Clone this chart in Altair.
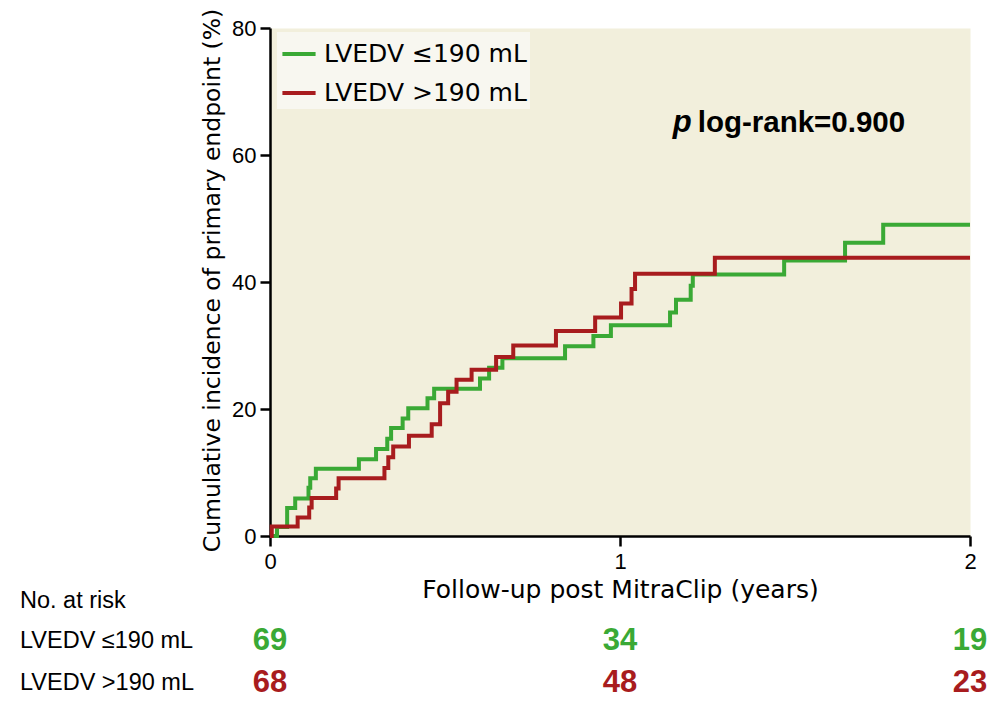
import altair as alt
import pandas as pd

# ---------------- data ----------------
GROUPS = ["LVEDV ≤190 mL", "LVEDV >190 mL"]
COLORS = ["#3aa935", "#a81c1e"]

green_t = [0, 0.02, 0.049, 0.072, 0.110, 0.115, 0.131, 0.254, 0.303, 0.335, 0.346,
           0.379, 0.395, 0.450, 0.469, 0.600, 0.626, 0.664, 0.843, 0.924, 0.974,
           1.143, 1.160, 1.202, 1.208, 1.469, 1.643, 1.752]
green_v = [0, 1.4, 4.4, 5.9, 7.6, 9.1, 10.6, 12.1, 13.7, 15.3, 17.0,
           18.5, 20.1, 21.7, 23.2, 24.8, 26.5, 28.0, 29.9, 31.5, 33.2,
           35.2, 37.2, 39.4, 41.2, 43.4, 46.2, 49.0]

red_t = [0, 0.005, 0.079, 0.112, 0.119, 0.189, 0.196, 0.327, 0.338, 0.352, 0.397,
         0.462, 0.486, 0.509, 0.533, 0.576, 0.646, 0.695, 0.817, 0.929, 1.003,
         1.033, 1.043, 1.271]
red_v = [0, 1.5, 2.9, 4.5, 6.0, 7.5, 9.1, 10.7, 12.4, 14.1, 15.8,
         17.6, 20.9, 22.7, 24.6, 26.2, 28.2, 30.0, 32.3, 34.4, 36.6,
         38.9, 41.3, 43.8]

END_T = 2.0

x_ticks = [0, 1, 2]
y_ticks = [0, 20, 40, 60, 80]

risk_times = [0, 1, 2]
risk_green = [69, 34, 19]
risk_red = [68, 48, 23]

risk_title = "No. at risk"
x_title = "Follow-up post MitraClip (years)"
y_title = "Cumulative incidence of primary endpoint (%)"
p_label = "p"
p_text = "log-rank=0.900"
p_pos_t = [1.151, 1.222]
p_pos_v = 63.6

# ---------------- build tables ----------------
rows = []
for g, ts, vs in [(GROUPS[0], green_t, green_v), (GROUPS[1], red_t, red_v)]:
    for t, v in zip(ts, vs):
        rows.append({"t": t, "v": v, "group": g})
    rows.append({"t": END_T, "v": vs[-1], "group": g})
df = pd.DataFrame(rows)

risk_g = pd.DataFrame({"t": risk_times, "n": risk_green})
risk_r = pd.DataFrame({"t": risk_times, "n": risk_red})
ptab = pd.DataFrame({"t": p_pos_t, "v": [p_pos_v, p_pos_v], "label": [p_label, p_text]})

NARROW = "Liberation Sans"
SANS = "DejaVu Sans"

xscale = alt.Scale(domain=[0, 2], nice=False, zero=False)
yscale = alt.Scale(domain=[0, 80], nice=False)

axis_common = dict(
    labelFont=NARROW, labelFontSize=22, labelColor="black", labelFlush=False,
    labelOverlap=False,
    titleFont=SANS, titleFontWeight="normal", titleColor="black",
    tickSize=10, tickWidth=2.5, tickColor="black",
    domainColor="black", domainWidth=2.5, grid=False,
)

lines = alt.Chart(df).mark_line(interpolate="step-after", strokeWidth=4).encode(
    x=alt.X("t:Q", scale=xscale,
            axis=alt.Axis(values=x_ticks, title=x_title, titleFontSize=25,
                          labelPadding=5, titleX=350, titleY=53,
                          labelExpr="toString(datum.value)",
                          titleBaseline="middle", titleAlign="center", **axis_common)),
    y=alt.Y("v:Q", scale=yscale,
            axis=alt.Axis(values=y_ticks, title=y_title, titleFontSize=23.5,
                          labelPadding=4, titleX=-58, titleY=252, titleAngle=-90,
                          labelExpr="toString(datum.value)",
                          titleBaseline="middle", titleAlign="center", **axis_common)),
    color=alt.Color("group:N", scale=alt.Scale(domain=GROUPS, range=COLORS),
                    legend=alt.Legend(title=None, orient="none", legendX=7, legendY=4,
                                      fillColor="#f8f7f0", padding=3,
                                      symbolType="stroke", symbolStrokeWidth=4,
                                      symbolSize=1100, labelFont=SANS, labelFontSize=25,
                                      labelColor="black", rowPadding=7, labelOffset=6,
                                      labelLimit=400)),
)

ptxt_p = alt.Chart(ptab.iloc[[0]]).mark_text(
    font=NARROW, fontSize=31, fontWeight="bold", fontStyle="italic",
    align="left", baseline="alphabetic", color="black").encode(
    x=alt.X("t:Q", scale=xscale), y=alt.Y("v:Q", scale=yscale), text="label:N")
ptxt_r = alt.Chart(ptab.iloc[[1]]).mark_text(
    font=NARROW, fontSize=29.5, fontWeight="bold",
    align="left", baseline="alphabetic", color="black").encode(
    x=alt.X("t:Q", scale=xscale), y=alt.Y("v:Q", scale=yscale), text="label:N")

lab_df = pd.DataFrame({"label": [risk_title, GROUPS[0], GROUPS[1]],
                       "row": [0, 1, 2]})
row_y = [573, 613, 655]


def row_label(i):
    return alt.Chart(lab_df.iloc[[i]]).mark_text(
        font=NARROW, fontSize=23.5, align="left", baseline="middle", color="black").encode(
        x=alt.value(-250), y=alt.value(row_y[i]), text="label:N")


num_g = alt.Chart(risk_g).mark_text(
    font=NARROW, fontSize=31, fontWeight="bold", align="center", baseline="middle",
    color=COLORS[0]).encode(x=alt.X("t:Q", scale=xscale), y=alt.value(row_y[1]), text="n:Q")
num_r = alt.Chart(risk_r).mark_text(
    font=NARROW, fontSize=31, fontWeight="bold", align="center", baseline="middle",
    color=COLORS[1]).encode(x=alt.X("t:Q", scale=xscale), y=alt.value(row_y[2]), text="n:Q")

chart = alt.layer(lines, ptxt_p, ptxt_r, row_label(0), row_label(1), row_label(2),
                  num_g, num_r).properties(
    width=700, height=508,
    padding={"left": 262, "top": 20, "right": 26, "bottom": 165},
    autosize=alt.AutoSizeParams(type="none"),
).configure_view(fill="#f2efdc", stroke="transparent")

chart.save("out.html", embed_options={"renderer": "svg", "actions": False})
